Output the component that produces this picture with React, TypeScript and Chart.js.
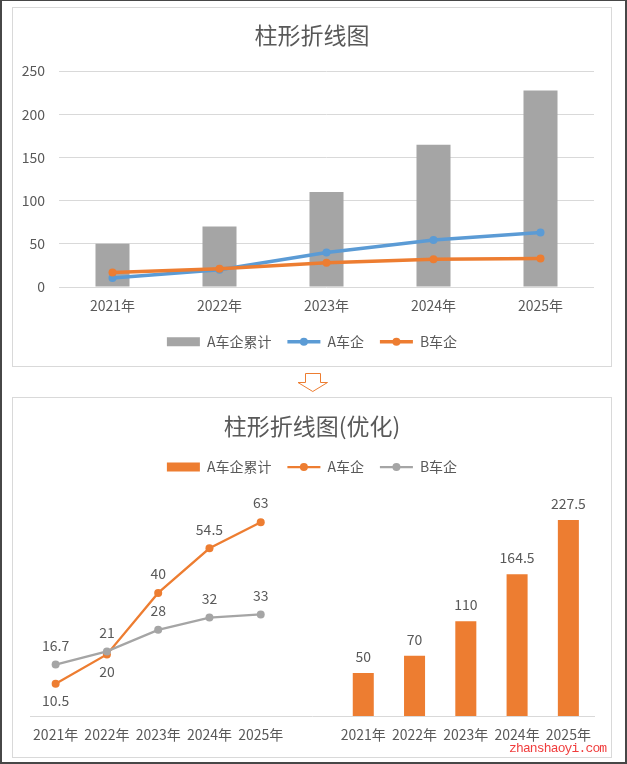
import React, { useEffect, useRef } from 'react';
import { Chart, registerables } from 'chart.js';

Chart.register(...registerables);

// ---------- data ----------
const YEARS = ['2021年', '2022年', '2023年', '2024年', '2025年'];
const A_TOTAL = [50, 70, 110, 164.5, 227.5];
const A_COMPANY = [10.5, 20, 40, 54.5, 63];
const B_COMPANY = [16.7, 21, 28, 32, 33];
const SERIES_NAMES = ['A车企累计', 'A车企', 'B车企'];
const TITLE_TOP = '柱形折线图';
const TITLE_BOTTOM = '柱形折线图(优化)';
const Y_MIN = 0;
const Y_MAX = 250;
const Y_STEP = 50;
const Y2_MAX = 70;
const A_LABEL_POS = ['below', 'below', 'above', 'above', 'above'];
const B_LABEL_POS = ['above', 'above', 'above', 'above', 'above'];
const WATERMARK = 'zhanshaoyi.com';

// ---------- styles ----------
const FONT = '"Microsoft YaHei", "Noto Sans CJK SC", sans-serif';
const TEXT = '#595959';
const GRID = '#D9D9D9';
const GRAY = '#A5A5A5';
const BLUE = '#5B9BD5';
const ORANGE = '#ED7D31';

Chart.defaults.font.family = FONT;
Chart.defaults.color = TEXT;

const generateLabels = (chart: any) =>
  chart.data.datasets.map((ds: any, i: number) => ({
    text: ds.label,
    datasetIndex: i,
    hidden: false,
    fillStyle: ds.type === 'line' ? 'rgba(0,0,0,0)' : ds.backgroundColor,
    strokeStyle: 'rgba(0,0,0,0)',
    lineWidth: 0,
    fontColor: TEXT,
  }));

const lineLegendPlugin = {
  id: 'lineLegend',
  afterDraw(chart: any) {
    const legend = chart.legend;
    if (!legend || !legend.legendHitBoxes) return;
    const ctx = chart.ctx;
    const boxWidth = legend.options.labels.boxWidth;
    legend.legendItems.forEach((item: any, i: number) => {
      const ds = chart.data.datasets[item.datasetIndex];
      if (ds.type !== 'line') return;
      const hb = legend.legendHitBoxes[i];
      const y = hb.top + hb.height / 2;
      const x0 = hb.left;
      const x1 = hb.left + boxWidth;
      ctx.save();
      ctx.strokeStyle = ds.borderColor;
      ctx.lineWidth = ds.borderWidth;
      ctx.beginPath();
      ctx.moveTo(x0, y);
      ctx.lineTo(x1, y);
      ctx.stroke();
      ctx.fillStyle = ds.borderColor;
      ctx.beginPath();
      ctx.arc((x0 + x1) / 2, y, ds.pointRadius, 0, Math.PI * 2);
      ctx.fill();
      ctx.restore();
    });
  },
};

const dataLabelPlugin = {
  id: 'dataLabels',
  afterDatasetsDraw(chart: any) {
    const ctx = chart.ctx;
    ctx.save();
    ctx.font = `14px ${FONT}`;
    ctx.fillStyle = TEXT;
    ctx.textAlign = 'center';
    ctx.textBaseline = 'middle';
    chart.data.datasets.forEach((ds: any, di: number) => {
      const meta = chart.getDatasetMeta(di);
      meta.data.forEach((el: any, j: number) => {
        const v = ds.data[j];
        if (v == null) return;
        let off: number;
        if (ds.type === 'bar') off = -16.5;
        else {
          const pos = ds.labelPos ? ds.labelPos[j] : 'above';
          off = pos === 'below' ? 17 : -19;
        }
        ctx.fillText(String(v), el.x, el.y + off);
      });
    });
    ctx.restore();
  },
};

const legendLabels = {
  boxWidth: 33,
  boxHeight: 9,
  padding: 16,
  color: TEXT,
  font: { family: FONT, size: 14 },
  generateLabels,
};

function topConfig(): any {
  return {
    type: 'bar',
    data: {
      labels: YEARS,
      datasets: [
        {
          type: 'bar',
          label: SERIES_NAMES[0],
          data: A_TOTAL,
          backgroundColor: GRAY,
          order: 3,
          barPercentage: 0.318,
          categoryPercentage: 1,
        },
        {
          type: 'line',
          label: SERIES_NAMES[1],
          data: A_COMPANY,
          borderColor: BLUE,
          backgroundColor: BLUE,
          borderWidth: 3.5,
          pointRadius: 4,
          pointBackgroundColor: BLUE,
          pointBorderWidth: 0,
          tension: 0,
          order: 2,
        },
        {
          type: 'line',
          label: SERIES_NAMES[2],
          data: B_COMPANY,
          borderColor: ORANGE,
          backgroundColor: ORANGE,
          borderWidth: 3.5,
          pointRadius: 4,
          pointBackgroundColor: ORANGE,
          pointBorderWidth: 0,
          tension: 0,
          order: 1,
        },
      ],
    },
    options: {
      responsive: false,
      animation: false,
      devicePixelRatio: 1,
      layout: { padding: { left: 9, right: 9, top: 0, bottom: 7.3 } },
      plugins: {
        title: {
          display: true,
          text: TITLE_TOP,
          color: TEXT,
          font: { family: FONT, size: 23, weight: 'normal' },
          padding: { top: 13.2, bottom: 22.2 },
        },
        legend: { position: 'bottom', labels: legendLabels },
        tooltip: { enabled: false },
      },
      scales: {
        x: {
          grid: { display: false, drawTicks: false },
          border: { display: false },
          ticks: { color: TEXT, font: { size: 14 }, padding: 10.6, maxRotation: 0, autoSkip: false },
          afterFit: (s: any) => {
            s.height -= 6.3;
          },
        },
        y: {
          min: Y_MIN,
          max: Y_MAX,
          ticks: { stepSize: Y_STEP, color: TEXT, font: { size: 14 }, padding: 14 },
          grid: { color: GRID, drawTicks: false },
          border: { display: false },
          afterFit: (s: any) => {
            s.width = 37;
          },
        },
        yRightSpace: {
          position: 'right',
          display: true,
          ticks: { display: false },
          grid: { display: false, drawTicks: false },
          border: { display: false },
          afterFit: (s: any) => {
            s.width = 8;
          },
        },
      },
    },
    plugins: [lineLegendPlugin],
  };
}

function bottomConfig(): any {
  const gap = [''];
  const emptyRight = Array(YEARS.length + gap.length).fill(null);
  const emptyLeft = Array(YEARS.length + gap.length).fill(null);
  return {
    type: 'bar',
    data: {
      labels: [...YEARS, ...gap, ...YEARS],
      datasets: [
        {
          type: 'bar',
          label: SERIES_NAMES[0],
          data: [...emptyLeft, ...A_TOTAL],
          backgroundColor: ORANGE,
          yAxisID: 'y',
          order: 3,
          barPercentage: 0.41,
          categoryPercentage: 1,
        },
        {
          type: 'line',
          label: SERIES_NAMES[1],
          data: [...A_COMPANY, ...emptyRight],
          borderColor: ORANGE,
          backgroundColor: ORANGE,
          borderWidth: 2.25,
          pointRadius: 4,
          pointBackgroundColor: ORANGE,
          pointBorderWidth: 0,
          tension: 0,
          spanGaps: false,
          yAxisID: 'y2',
          order: 2,
          labelPos: A_LABEL_POS,
        },
        {
          type: 'line',
          label: SERIES_NAMES[2],
          data: [...B_COMPANY, ...emptyRight],
          borderColor: GRAY,
          backgroundColor: GRAY,
          borderWidth: 2.25,
          pointRadius: 4,
          pointBackgroundColor: GRAY,
          pointBorderWidth: 0,
          tension: 0,
          spanGaps: false,
          yAxisID: 'y2',
          order: 1,
          labelPos: B_LABEL_POS,
        },
      ],
    },
    options: {
      responsive: false,
      animation: false,
      devicePixelRatio: 1,
      layout: { padding: { left: 17, right: 17, top: 0, bottom: 3 } },
      plugins: {
        title: {
          display: true,
          text: TITLE_BOTTOM,
          color: TEXT,
          font: { family: FONT, size: 23, weight: 'normal' },
          padding: { top: 14.2, bottom: 4.2 },
        },
        subtitle: {
          display: true,
          text: ' ',
          position: 'top',
          weight: 500,
          font: { size: 1 },
          padding: { top: 0, bottom: 15.4 },
        },
        legend: { position: 'top', labels: legendLabels },
        tooltip: { enabled: false },
      },
      scales: {
        x: {
          grid: { display: false, drawTicks: false },
          border: { display: true, color: GRID, width: 1 },
          ticks: { color: TEXT, font: { size: 14 }, padding: 10.6, maxRotation: 0, autoSkip: false },
        },
        y: { display: false, min: Y_MIN, max: Y_MAX },
        y2: { display: false, min: Y_MIN, max: Y2_MAX, position: 'right' },
      },
    },
    plugins: [lineLegendPlugin, dataLabelPlugin],
  };
}

function ChartCanvas({ makeConfig, width, height }: { makeConfig: () => any; width: number; height: number }) {
  const ref = useRef<HTMLCanvasElement>(null);
  useEffect(() => {
    if (!ref.current) return;
    const chart = new Chart(ref.current, makeConfig());
    return () => chart.destroy();
  }, []);
  return <canvas ref={ref} width={width} height={height} style={{ display: 'block', width, height }} />;
}

export default function App() {
  return (
    <div
      style={{
        position: 'fixed',
        left: 0,
        top: 0,
        width: 627,
        height: 764,
        background: '#fff',
        overflow: 'hidden',
      }}
    >
      {/* top panel */}
      <div
        style={{
          position: 'absolute',
          left: 12,
          top: 7,
          width: 600,
          height: 360,
          border: `1px solid ${GRID}`,
          boxSizing: 'border-box',
        }}
      />
      <div style={{ position: 'absolute', left: 13, top: 8 }}>
        <ChartCanvas makeConfig={topConfig} width={598} height={358} />
      </div>

      {/* arrow */}
      <svg
        style={{ position: 'absolute', left: 296, top: 371 }}
        width={34}
        height={24}
        viewBox="0 0 34 24"
      >
        <polygon
          points="9.5,2.5 24.5,2.5 24.5,11.5 31.5,11.5 16.75,20.5 2,11.5 9.5,11.5"
          fill="#fff"
          stroke={ORANGE}
          strokeWidth={1}
        />
      </svg>

      {/* bottom panel */}
      <div
        style={{
          position: 'absolute',
          left: 12,
          top: 397,
          width: 600,
          height: 361,
          border: `1px solid ${GRID}`,
          boxSizing: 'border-box',
        }}
      />
      <div style={{ position: 'absolute', left: 13, top: 398 }}>
        <ChartCanvas makeConfig={bottomConfig} width={598} height={359} />
      </div>

      {/* watermark */}
      <div
        style={{
          position: 'absolute',
          left: 509,
          top: 741,
          fontFamily: '"Liberation Mono", monospace',
          fontSize: 13,
          letterSpacing: '-0.85px',
          lineHeight: '15px',
          color: '#F03C3C',
          whiteSpace: 'nowrap',
        }}
      >
        {WATERMARK}
      </div>

      {/* outer frame */}
      <div
        style={{
          position: 'absolute',
          left: 0,
          top: 0,
          width: 627,
          height: 764,
          boxSizing: 'border-box',
          borderLeft: '2px solid #474747',
          borderTop: '1px solid #474747',
          borderRight: '2px solid #474747',
          borderBottom: '2px solid #474747',
          pointerEvents: 'none',
        }}
      />
    </div>
  );
}
